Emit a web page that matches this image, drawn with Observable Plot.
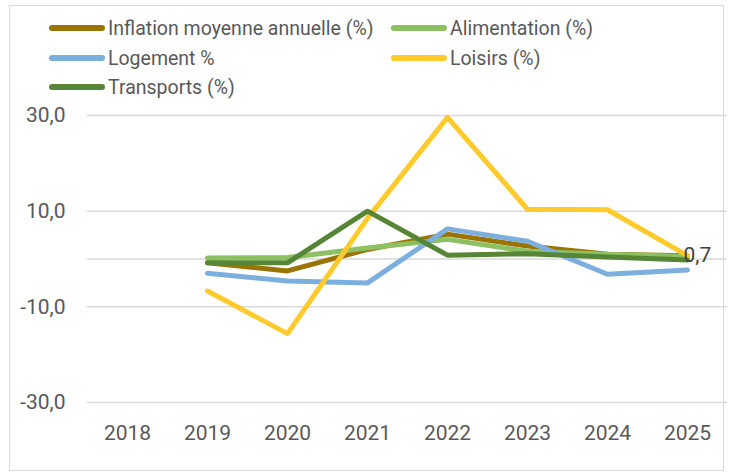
<!DOCTYPE html>
<html>
<head>
<meta charset="utf-8">
<script src="https://cdn.jsdelivr.net/npm/d3@7"></script>
<script src="https://cdn.jsdelivr.net/npm/@observablehq/plot@0.6"></script>
<style>
  html, body { margin: 0; padding: 0; background: #fff; }
  #wrap { position: relative; width: 730px; height: 476px; overflow: hidden; font-family: Roboto, "Noto Sans", sans-serif; }
  #frame { position: absolute; left: 9px; top: 5px; width: 715px; height: 466px; border: 1px solid #d9d9d9; box-sizing: border-box; pointer-events: none; }
  .lg { position: absolute; display: flex; align-items: center; font-size: 19.5px; color: #595959; white-space: nowrap; }
  .sw { width: 56px; height: 6px; border-radius: 3px; margin-right: 3px; }
  #chart { position: absolute; left: 0; top: 0; }
</style>
</head>
<body>
<div id="wrap">
  <div id="chart"></div>
  <div id="legend"></div>
  <div id="frame"></div>
</div>
<script>
const years = ["2018", "2019", "2020", "2021", "2022", "2023", "2024", "2025"];
const seriesNames = ["Inflation moyenne annuelle (%)", "Alimentation (%)", "Logement %", "Loisirs (%)", "Transports (%)"];
const seriesColors = ["#9a7400", "#8cc063", "#7dafde", "#ffca2c", "#568536"];
const inflation    = [null, -0.8, -2.5, 2.0, 5.2, 2.7, 1.0, 0.7];
const alimentation = [null,  0.2,  0.3, 2.3, 4.1, 1.6, 1.0, 0.5];
const logement     = [null, -3.0, -4.6, -5.0, 6.3, 3.7, -3.2, -2.3];
const loisirs      = [null, -6.7, -15.6, 8.5, 29.6, 10.4, 10.3, 0.7];
const transports   = [null, -0.8, -0.8, 10.0, 0.8, 1.1, 0.4, -0.2];
const yTicks = [-30, -10, 10, 30];
const labelValue = 0.7;
const labelYear = "2025";

const allSeries = [inflation, alimentation, logement, loisirs, transports];
const data = [];
allSeries.forEach((vals, i) => {
  vals.forEach((v, j) => {
    if (v !== null) data.push({ series: seriesNames[i], year: years[j], value: v });
  });
});

const fmt = d => d.toFixed(1).replace(".", ",");

const chart = Plot.plot({
  width: 730,
  height: 476,
  marginLeft: 87,
  marginRight: 3,
  marginTop: 115,
  marginBottom: 74,
  style: { fontFamily: "Roboto, 'Noto Sans', sans-serif", fontSize: "21px", color: "#595959", background: "transparent" },
  x: { type: "point", domain: years, padding: 0.5 },
  y: { domain: [-30, 30] },
  color: { domain: seriesNames, range: seriesColors },
  marks: [
    Plot.ruleY([...yTicks, 0], { stroke: "#d9d9d9", strokeWidth: 1.5 }),
    Plot.axisY({ ticks: yTicks, tickFormat: fmt, tickSize: 0, tickPadding: 22, label: null, fill: "#595959" }),
    Plot.axisX({ tickSize: 0, tickPadding: 23, label: null, fill: "#595959" }),
    Plot.line(data, { x: "year", y: "value", z: "series", stroke: "series", strokeWidth: 5, strokeLinejoin: "round", strokeLinecap: "round" }),
    Plot.text([{ year: labelYear, value: labelValue }], { x: "year", y: "value", text: d => fmt(d.value), textAnchor: "start", dx: -4, fill: "#404040", fontSize: 21 })
  ]
});
document.getElementById("chart").appendChild(chart);

const legendPos = [
  { left: 49, top: 28 }, { left: 391, top: 28 },
  { left: 49, top: 58 }, { left: 391, top: 58 },
  { left: 49, top: 87 }
];
const legend = document.getElementById("legend");
seriesNames.forEach((name, i) => {
  const d = document.createElement("div");
  d.className = "lg";
  d.style.left = legendPos[i].left + "px";
  d.style.top = (legendPos[i].top - 12) + "px";
  d.style.height = "24px";
  const sw = document.createElement("span");
  sw.className = "sw";
  sw.style.background = seriesColors[i];
  const t = document.createElement("span");
  t.textContent = name;
  d.appendChild(sw);
  d.appendChild(t);
  legend.appendChild(d);
});
</script>
</body>
</html>
